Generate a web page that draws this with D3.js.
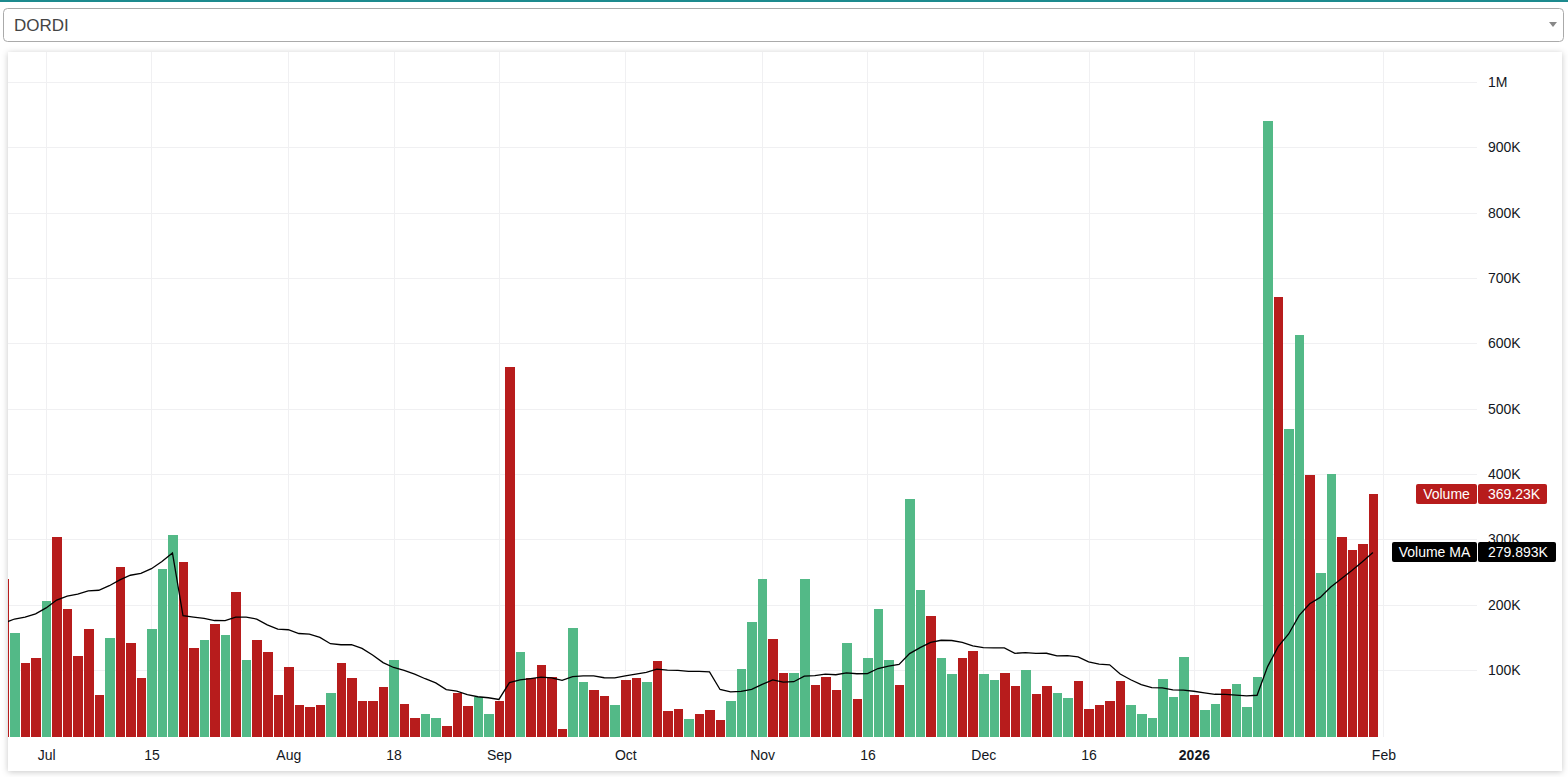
<!DOCTYPE html>
<html><head><meta charset="utf-8">
<script src="https://cdn.jsdelivr.net/npm/d3@7"></script>
<style>html,body{margin:0;padding:0;background:#fff;overflow:hidden}</style>
</head><body><svg id="c" width="1568" height="777"></svg>
<script>
// ---------- data (volumes in thousands) ----------
const symbol = "DORDI";
const volumes = [240,156,110,119,206,303,194,122,163,61,
149,258,142,88,163,255,307,266,134,146,
171,153,220,116,146,128,61,105,47,44,
47,65,110,87,53,52,74,116,48,27,
33,26,15,65,45,59,32,52,563,128,
87,107,90,9,165,81,69,60,46,84,
87,81,113,37,40,25,32,38,23,53,
102,173,239,147,95,95,239,77,89,69,
142,55,118,193,115,77,362,222,183,118,
94,118,129,94,84,95,75,100,63,75,
64,57,83,41,46,52,83,46,32,26,
86,59,120,61,38,48,71,78,44,90,
940,671,469,612,399,248,400,303,283,293,369.23];
const directions = ["d","u","d","d","u","d","d","d","d","d",
"u","d","d","d","u","u","u","d","d","u",
"d","u","d","u","d","d","d","d","d","d",
"d","u","d","d","d","d","d","u","d","d",
"u","u","d","d","d","u","u","d","d","u",
"d","d","d","d","u","u","d","d","u","d",
"d","u","d","d","d","u","d","d","d","u",
"u","u","u","d","d","u","u","d","d","d",
"u","d","u","u","u","d","u","u","d","u",
"u","d","d","u","u","d","d","u","d","d",
"u","u","d","d","d","d","d","u","u","u",
"u","u","u","d","u","u","d","u","u","u",
"u","d","u","u","d","u","u","d","d","d","d"];
const volumeMA = [172,178,181,186,195,207,213,216,221,222,
229,238,245,248,255,266,279,183,181,179.1,
175.7,175.5,181,180.9,177.9,169.1,162.5,161.6,155.8,155,
149.9,140.2,138.6,138.6,133.1,122.9,111.3,103.8,99.5,93.5,
86.6,80.3,70,67.5,62.4,59,57.5,54.9,80.7,84.9,
86.9,89,88,84.1,89.7,91.1,90.9,88.1,88,90.8,
93.5,96.3,101.2,99.8,99.5,97.8,97.8,97.1,70.1,66.4,
67.1,70.4,77.9,84.8,81.3,82,90.5,91.3,93.5,92.7,
95.5,94.2,94.4,102.2,106,108.6,125.1,134.3,142.3,145.5,
145.1,142.4,136.9,134.2,133.7,133.7,125.5,126.6,125.3,125.6,
121.7,121.8,120.1,112.5,109,107.8,93.8,85,77.5,72.9,
72.5,69.5,69.1,67.4,65.1,62.8,62.6,61.5,60.5,61.3,
105.1,135.8,155.1,183.6,201.3,211.1,226.9,239.8,252.3,265.7,279.893];
const tickIndex = [4,14,27,37,47,59,72,82,93,103,113,131];
const tickLabels = ["Jul","15","Aug","18","Sep","Oct","Nov","16","Dec","16","2026","Feb"];
const yTickValues = [100,200,300,400,500,600,700,800,900,1000];
const yTickLabels = ["100K","200K","300K","400K","500K","600K","700K","800K","900K","1M"];
const volumeLabel = {name:"Volume", text:"369.23K"};
const maLabel = {name:"Volume MA", text:"279.893K"};

// ---------- layout ----------
const upColor = "#53b987", downColor = "#b71c1c";
const font = "'Liberation Sans', Arial, sans-serif";
const plot = {left:8, right:1477, top:52, bottom:737};
const svg = d3.select("#c");

const x = d3.scaleLinear().domain([0,130]).range([4, 4+130*10.53]);
const y = d3.scaleLinear().domain([0,1000]).range([735.3, 82]);

// top teal line
svg.append("rect").attr("x",0).attr("y",0).attr("width",1568).attr("height",2).attr("fill","#1d8a8e");

// select box
svg.append("rect").attr("x",3.5).attr("y",8.5).attr("width",1560).attr("height",33).attr("rx",4)
  .attr("fill","#fff").attr("stroke","#aaa");
svg.append("text").attr("x",14).attr("y",31).attr("font-family",font).attr("font-size",17)
  .attr("fill","#444").text(symbol);
svg.append("path").attr("d","M1549,22 L1557,22 L1553,27 Z").attr("fill","#888");

// panel with shadow
const defs = svg.append("defs");
const f = defs.append("filter").attr("id","sh").attr("x","-5%").attr("y","-5%").attr("width","110%").attr("height","110%");
f.append("feDropShadow").attr("dx",0).attr("dy",1).attr("stdDeviation",3).attr("flood-color","#000").attr("flood-opacity",0.22);
svg.append("rect").attr("x",8).attr("y",52).attr("width",1554).attr("height",719)
  .attr("fill","#fff").attr("filter","url(#sh)");
defs.append("clipPath").attr("id","clip").append("rect")
  .attr("x",plot.left).attr("y",plot.top).attr("width",plot.right-plot.left).attr("height",plot.bottom-plot.top);

// grid
const grid = svg.append("g").attr("shape-rendering","crispEdges");
grid.selectAll(".v").data(tickIndex).enter().append("line")
  .attr("x1",d=>Math.round(x(d))+0.5).attr("x2",d=>Math.round(x(d))+0.5)
  .attr("y1",plot.top).attr("y2",plot.bottom).attr("stroke","#f0f0f2");
grid.selectAll(".h").data(yTickValues).enter().append("line")
  .attr("x1",plot.left).attr("x2",plot.right)
  .attr("y1",d=>Math.round(y(d))+0.5).attr("y2",d=>Math.round(y(d))+0.5).attr("stroke","#f0f0f2");

// bars
const g = svg.append("g").attr("clip-path","url(#clip)");
g.selectAll(".bar").data(volumes).enter().append("rect")
  .attr("shape-rendering","crispEdges")
  .attr("x",(d,i)=>Math.round(x(i-0.5))+1)
  .attr("width",(d,i)=>Math.round(x(i+0.5))-Math.round(x(i-0.5))-1)
  .attr("y",d=>Math.round(y(d)))
  .attr("height",d=>plot.bottom-Math.round(y(d)))
  .attr("fill",(d,i)=>directions[i]==="u"?upColor:downColor);

// MA line
g.append("path").datum(volumeMA)
  .attr("d", d3.line().x((d,i)=>x(i)).y(d=>y(d)))
  .attr("fill","none").attr("stroke","#000").attr("stroke-width",1.3);

// y axis
const ya = svg.append("g").attr("transform",`translate(${plot.right},0)`)
  .call(d3.axisRight(y).tickValues(yTickValues).tickFormat((d,i)=>yTickLabels[i]).tickSize(0).tickPadding(11));
ya.select(".domain").remove();
ya.selectAll("text").attr("font-family",font).attr("font-size",14).attr("fill","#131722");

// x axis
const xa = svg.append("g").attr("transform",`translate(0,${plot.bottom})`)
  .call(d3.axisBottom(x).tickValues(tickIndex).tickFormat((d,i)=>tickLabels[i]).tickSize(0).tickPadding(13));
xa.select(".domain").remove();
xa.selectAll("text").attr("font-family",font).attr("font-size",14).attr("fill","#131722")
  .attr("font-weight",(d,i)=>tickLabels[i]==="2026"?"bold":"normal");

// price labels
function priceLabel(val, lab, color, nameLeft, valRight){
  const cy = y(val);
  const top = Math.round(cy-10);
  svg.append("rect").attr("x",nameLeft).attr("y",top).attr("width",plot.right-nameLeft).attr("height",20).attr("rx",2).attr("fill",color);
  svg.append("rect").attr("x",plot.right+1).attr("y",top).attr("width",valRight-plot.right-1).attr("height",20).attr("rx",2).attr("fill",color);
  svg.append("text").attr("x",(nameLeft+plot.right)/2).attr("y",top+15).attr("text-anchor","middle")
    .attr("font-family",font).attr("font-size",14).attr("fill","#fff").text(lab.name);
  svg.append("text").attr("x",plot.right+11).attr("y",top+15)
    .attr("font-family",font).attr("font-size",14).attr("fill","#fff").text(lab.text);
}
priceLabel(volumes[volumes.length-1], volumeLabel, downColor, 1416, 1547);
priceLabel(volumeMA[volumeMA.length-1], maLabel, "#000", 1392, 1556);
</script></body></html>
